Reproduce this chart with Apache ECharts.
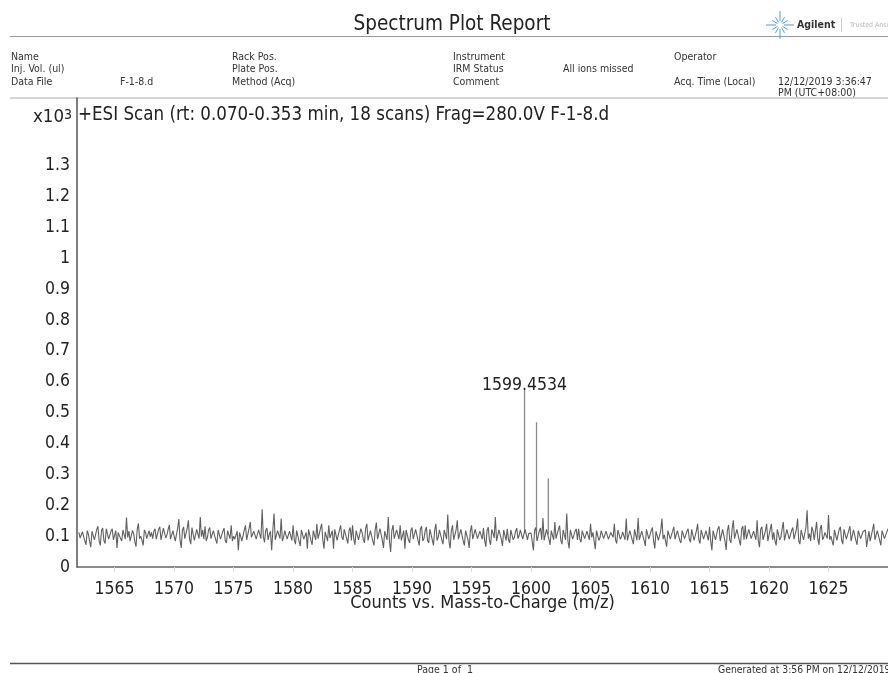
<!DOCTYPE html>
<html><head><meta charset="utf-8">
<style>html,body{margin:0;padding:0;background:#fff}#c{width:888px;height:673px}</style>
<script src="https://cdn.jsdelivr.net/npm/echarts@6/dist/echarts.min.js"></script>
</head><body><div id="c"></div>
<script>
const mzStart = 1562, mzStep = 0.1;
const noiseCounts = [
112,96,108,72,106, 64,120,82,132,70, 126,76,128,88,124, 92,62,118,84,126,
160,116,84,108,66, 141,100,70,112,88, 98,92,124,94,130, 90,128,104,136,92,
118,78,155,62,130, 86,151,74,128,84, 126,162,120,132,96, 128,98,120,76,118,
92,126,78,112,135, 100,84,54,110,88, 135,92,146,102,122, 84,118,187,80,126,
106,54,173,86,118, 157,96,120,88,112, 135,74,112,68,118, 94,59,124,72,116,
140,96,140,59,112, 135,98,59,124,92, 135,88,118,76,128, 135,72,116,86,112,
78,140,92,114,70, 144,84,118,62,110, 162,49,136,96,124, 135,84,59,122,78,
128,88,124,70,132, 92,130,78,120,70, 140,96,118,74,122, 170,60,135,84,151,
96,128,70,118,62, 135,88,120,94,114, 126,66,129,72,110, 162,90,116,68,125,
124,78,118,96,126, 102,122,92,128,108, 110,54,128,84,126, 159,88,118,72,120,
146,96,134,74,122, 173,60,118,92,124, 124,80,112,92,118, 140,112,58,118,96,
112,88,116,100,108, 140,76,120,98,114, 157,86,118,74,128, 159,92,120,68,118,
94,128,60,112,86, 157,104,66,118,94, 130,90,122,78,116, 98,124,80,126,86,
140,76,118,88,122, 130,54,118,86,132, 84,128,55,136,78, 151,90,126,70,132,
135,88,116,94,120, 151,64,130,84,140, 78,140,112,70,126, 96,146,80,118,86,
128,92,157,74,122, 84,184,108,130,88, 146,72,136,96,116, 168,100,70,124,82,
130,74,122,86,132, 84,126,72,118,98, 108,65,116,78,140, 92,122,70,118,96, 124
];
const noiseBetween = [
94,114,84,118,82, 116,88,122,84,118, 86,124,90,116,88, 118,112,92,120,90,
96,84,118,82,122, 92,86,120,92,118, 112,116,90,122,88, 126,94,122,90,118,
84,126,86,120,92, 124,90,128,86,122, 92,98,90,84,120, 92,118,88,120,90,
116,86,118,92,84, 90,116,112,84,120, 88,124,96,116,90, 120,92,98,118,88,
116,120,88,118,92, 84,118,90,116,86, 88,118,84,120,90, 112,122,86,118,88,
92,124,88,114,84, 94,118,122,86,120, 96,122,92,118,86, 90,118,88,124,90,
126,86,118,84,120, 90,124,86,116,88, 84,118,92,120,90, 86,118,120,88,118,
90,122,86,124,84, 118,86,122,88,118, 86,120,88,120,90, 84,118,88,120,90,
122,84,118,88,116, 90,122,92,116,90, 86,118,88,122,94, 84,120,90,120,86,
90,120,88,116,92, 120,90,122,88,114, 116,120,84,118,88, 86,122,90,118,88,
92,122,86,120,88, 84,120,90,116,88, 90,118,92,116,88, 96,84,118,86,118,
92,116,90,112,96, 88,120,90,114,88, 86,118,88,122,86, 88,116,86,122,90,
118,84,116,86,118, 90,84,118,90,116, 90,118,86,118,92, 116,90,122,86,118,
88,120,90,118,86, 84,118,88,124,84, 122,84,118,88,124, 92,122,86,124,88,
90,122,92,116,88, 86,122,88,118,84, 122,88,84,122,88, 124,86,122,90,118,
90,122,84,120,88, 128,92,84,116,92, 90,124,88,112,92, 88,84,120,86,122,
88,122,90,118,84, 120,86,118,92,114, 120,92,84,120,88, 118,86,118,92
];
const peakMz = [1599.4534, 1600.46, 1601.45];
const peakCounts = [573, 469, 287];
const peakBase = [110, 105, 105];
const peakLabel = '1599.4534';
const xTicks = [1565,1570,1575,1580,1585,1590,1595,1600,1605,1610,1615,1620,1625];
const xMarks = [1565,1570,1575,1580,1585,1590,1595,1600,1605,1610,1615,1620,1625,1630];
const yTicks = [0,100,200,300,400,500,600,700,800,900,1000,1100,1200,1300];
const plotTitle = '+ESI Scan (rt: 0.070-0.353 min, 18 scans) Frag=280.0V F-1-8.d';
const xName = 'Counts vs. Mass-to-Charge (m/z)';

const F = '"DejaVu Sans Condensed","DejaVu Sans",sans-serif';
const noiseData = [];
noiseCounts.forEach((v,i)=>{
  noiseData.push([mzStart+2*i*mzStep, v]);
  if (i<noiseBetween.length) noiseData.push([mzStart+(2*i+1)*mzStep, noiseBetween[i]]);
});
const peakData = [];
peakMz.forEach((m,i)=>{ peakData.push([m,peakBase[i]],[m,peakCounts[i]],[m,'-']); });

const txt = (x,y,s,o={}) => ({type:'text',x,y,silent:true,style:Object.assign({text:s,font:`10.5px ${F}`,fill:'#333',textVerticalAlign:'middle'},o)});
const rule = (x1,y1,x2,y2,c,w) => ({type:'line',silent:true,shape:{x1,y1,x2,y2},style:{stroke:c,lineWidth:w}});
const logo = [];
for (let a=0;a<12;a++){
  const t=a*Math.PI/6, r0=a%3==0?4:3, r1=a%3==0?14:9;
  logo.push(rule(780+r0*Math.cos(t),25+r0*Math.sin(t),780+r1*Math.cos(t),25+r1*Math.sin(t),'#4a9fd0',1));
}
const meta = [
 [11,57,'Name'],[11,69,'Inj. Vol. (ul)'],[11,82,'Data File'],[120,82,'F-1-8.d'],
 [232,57,'Rack Pos.'],[232,69,'Plate Pos.'],[232,82,'Method (Acq)'],
 [453,57,'Instrument'],[453,69,'IRM Status'],[453,82,'Comment'],[563,69,'All ions missed'],
 [674,57,'Operator'],[674,82,'Acq. Time (Local)'],[778,82,'12/12/2019 3:36:47'],[778,93,'PM (UTC+08:00)']
];
const graphic = [
 txt(452,25,'Spectrum Plot Report',{font:`20.5px ${F}`,fill:'#222',textAlign:'center'}),
 rule(10,36.5,888,36.5,'#999',1),
 ...meta.map(m=>txt(m[0],m[1],m[2])),
 rule(10,98,888,98,'#aaa',1),
 txt(78,115,plotTitle,{font:`18.6px ${F}`,fill:'#222'}),
 {type:'text',x:33,y:108,silent:true,style:{rich:{a:{font:`18.5px ${F}`,fill:'#222',verticalAlign:'bottom'},b:{font:`14px ${F}`,fill:'#222',verticalAlign:'top'}},text:'{a|x10}{b|3}'}},
 ...logo,
 txt(797,25,'Agilent',{font:`bold 10.5px ${F}`,fill:'#333'}),
 rule(841.5,18,841.5,32,'#ccc',1),
 txt(850,25,'Trusted Answers',{font:`7px ${F}`,fill:'#bbb'}),
 rule(10,663.5,888,663.5,'#555',1.5),
 txt(445,670,'Page 1 of  1',{textAlign:'center'}),
 txt(718,670,'Generated at 3:56 PM on 12/12/2019',{font:`10.3px ${F}`})
];

echarts.init(document.getElementById('c'),null,{renderer:'canvas'}).setOption({
 animation:false,
 backgroundColor:'#fff',
 grid:{left:77,right:0,top:98,bottom:106},
 graphic,
 xAxis:{type:'value',min:1561.84,max:1630,
  name:xName,nameLocation:'middle',nameGap:27,nameMoveOverlap:false,
  nameTextStyle:{fontFamily:F,fontSize:18,color:'#222'},
  axisLine:{lineStyle:{color:'#666',width:1.5}},
  axisTick:{customValues:xMarks,length:5,lineStyle:{color:'#ddd'}},
  axisLabel:{customValues:xTicks,fontFamily:F,fontSize:17.5,color:'#222',margin:13,formatter:v=>String(v)},
  splitLine:{show:false}},
 yAxis:{type:'value',min:0,max:1519,
  axisLine:{show:true,lineStyle:{color:'#555',width:1.5}},
  axisTick:{show:false,customValues:yTicks},
  axisLabel:{customValues:yTicks,fontFamily:F,fontSize:17.5,color:'#222',margin:7,formatter:v=>String(v/1000)},
  splitLine:{show:false}},
 series:[
  {type:'line',data:noiseData,symbol:'none',lineStyle:{color:'#606060',width:1.1},silent:true,z:3},
  {type:'line',data:peakData,symbol:'none',connectNulls:false,lineStyle:{color:'#8a8a8a',width:1.3},silent:true,z:2},
  {type:'scatter',data:[[peakMz[0],peakCounts[0]]],symbolSize:0,silent:true,z:4,itemStyle:{opacity:1},
   label:{show:true,position:'top',distance:-4,formatter:peakLabel,fontFamily:F,fontSize:17.5,color:'#222',opacity:1}}
 ]
});
</script></body></html>
